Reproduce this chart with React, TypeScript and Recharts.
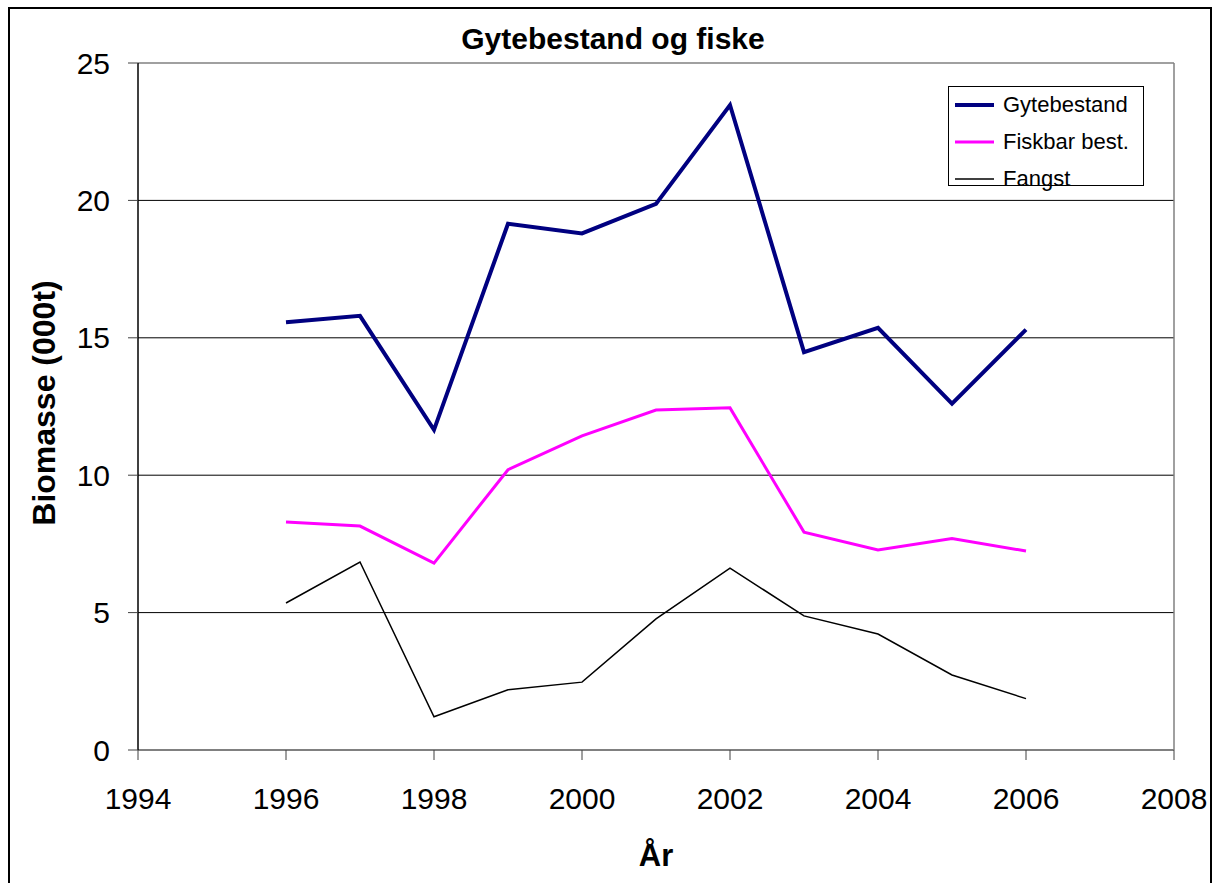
import React from 'react';
import { LineChart, Line, XAxis, YAxis, CartesianGrid, ReferenceLine, Legend } from 'recharts';

const years = [1996, 1997, 1998, 1999, 2000, 2001, 2002, 2003, 2004, 2005, 2006];
const gytebestand = [15.57, 15.8, 11.65, 19.15, 18.8, 19.87, 23.47, 14.48, 15.36, 12.6, 15.3];
const fiskbar = [8.3, 8.15, 6.8, 10.2, 11.43, 12.37, 12.45, 7.93, 7.28, 7.7, 7.24];
const fangst = [5.35, 6.84, 1.21, 2.19, 2.47, 4.77, 6.62, 4.88, 4.22, 2.73, 1.87];
const seriesNames = ['Gytebestand', 'Fiskbar best.', 'Fangst'];
const xTicks = [1994, 1996, 1998, 2000, 2002, 2004, 2006, 2008];
const yTicks = [0, 5, 10, 15, 20, 25];
const gridValues = [5, 10, 15, 20];

const data = years.map((year, i) => ({
    year,
    gyte: gytebestand[i],
    fisk: fiskbar[i],
    fangst: fangst[i],
}));

const FONT = '"Liberation Sans", Arial, sans-serif';

const LegendBox = (props: any) => {
    const items = [...(props.payload || [])].sort(
        (a: any, b: any) => seriesNames.indexOf(a.value) - seriesNames.indexOf(b.value)
    );
    return (
        <div
            style={{
                position: 'relative',
                width: 196,
                height: 100,
                border: '1px solid #000',
                background: '#fff',
                fontFamily: FONT,
                fontSize: 22,
                color: '#000',
                boxSizing: 'border-box',
            }}
        >
            {items.map((item: any, i: number) => (
                <div
                    key={item.value}
                    style={{
                        position: 'absolute',
                        left: 0,
                        top: 5 + i * 37,
                        height: 26,
                        display: 'flex',
                        alignItems: 'center',
                    }}
                >
                    <svg width={48} height={10} style={{ marginLeft: 6 }}>
                        <line x1={0} y1={5} x2={39} y2={5} stroke={item.color} strokeWidth={item.payload.strokeWidth} />
                    </svg>
                    <span style={{ position: 'relative', top: 0 }}>{item.value}</span>
                </div>
            ))}
        </div>
    );
};

const App: React.FC = () => {
    return (
        <div style={{ position: 'absolute', left: 0, top: 0, width: 1216, height: 883, overflow: 'hidden', background: '#fff' }}>
            <div
                style={{
                    position: 'absolute',
                    left: 8,
                    top: 7,
                    width: 1204,
                    height: 900,
                    border: '2px solid #000',
                    boxSizing: 'border-box',
                }}
            />
            <LineChart
                width={1216}
                height={883}
                data={data}
                margin={{ top: 63, right: 42, bottom: 0, left: 0 }}
                style={{ position: 'absolute', left: 0, top: 0, fontFamily: FONT }}
            >
                <CartesianGrid horizontal vertical={false} horizontalValues={gridValues} stroke="#000" strokeWidth={1} />
                <XAxis
                    dataKey="year"
                    type="number"
                    domain={[1994, 2008]}
                    ticks={xTicks}
                    height={133}
                    tickSize={10}
                    tickMargin={28}
                    axisLine={{ stroke: '#808080', strokeWidth: 2 }}
                    tickLine={{ stroke: '#404040' }}
                    tick={{ fill: '#000', fontSize: 30, fontFamily: FONT }}
                    interval={0}
                />
                <YAxis
                    type="number"
                    domain={[0, 25]}
                    ticks={yTicks}
                    width={138}
                    tickSize={10}
                    tickMargin={18}
                    axisLine={{ stroke: '#000', strokeWidth: 1.5 }}
                    tickLine={{ stroke: '#404040' }}
                    tick={{ fill: '#000', fontSize: 30, fontFamily: FONT }}
                    interval={0}
                />
                <ReferenceLine y={25} stroke="#808080" strokeWidth={1.5} />
                <ReferenceLine x={2008} stroke="#808080" strokeWidth={1.5} />
                <Legend
                    layout="horizontal"
                    verticalAlign="middle"
                    align="center"
                    content={<LegendBox />}
                    wrapperStyle={{ position: 'absolute', left: 948, top: 86, width: 196, height: 100 }}
                />
                <Line
                    name="Gytebestand"
                    dataKey="gyte"
                    type="linear"
                    stroke="#000080"
                    strokeWidth={4}
                    dot={false}
                    isAnimationActive={false}
                />
                <Line
                    name="Fiskbar best."
                    dataKey="fisk"
                    type="linear"
                    stroke="#FF00FF"
                    strokeWidth={3}
                    dot={false}
                    isAnimationActive={false}
                />
                <Line
                    name="Fangst"
                    dataKey="fangst"
                    type="linear"
                    stroke="#000"
                    strokeWidth={1.5}
                    dot={false}
                    isAnimationActive={false}
                />
            </LineChart>
            <svg
                width={1216}
                height={883}
                style={{ position: 'absolute', left: 0, top: 0, pointerEvents: 'none', fontFamily: FONT }}
            >
                <text x={613} y={49} textAnchor="middle" fontSize={30} fontWeight="bold" fill="#000">
                    Gytebestand og fiske
                </text>
                <text x={656} y={866} textAnchor="middle" fontSize={31} fontWeight="bold" fill="#000">
                    År
                </text>
                <text
                    x={0}
                    y={0}
                    transform="translate(55, 403) rotate(-90)"
                    textAnchor="middle"
                    fontSize={32}
                    fontWeight="bold"
                    fill="#000"
                >
                    Biomasse (000t)
                </text>
            </svg>
        </div>
    );
};

export default App;
